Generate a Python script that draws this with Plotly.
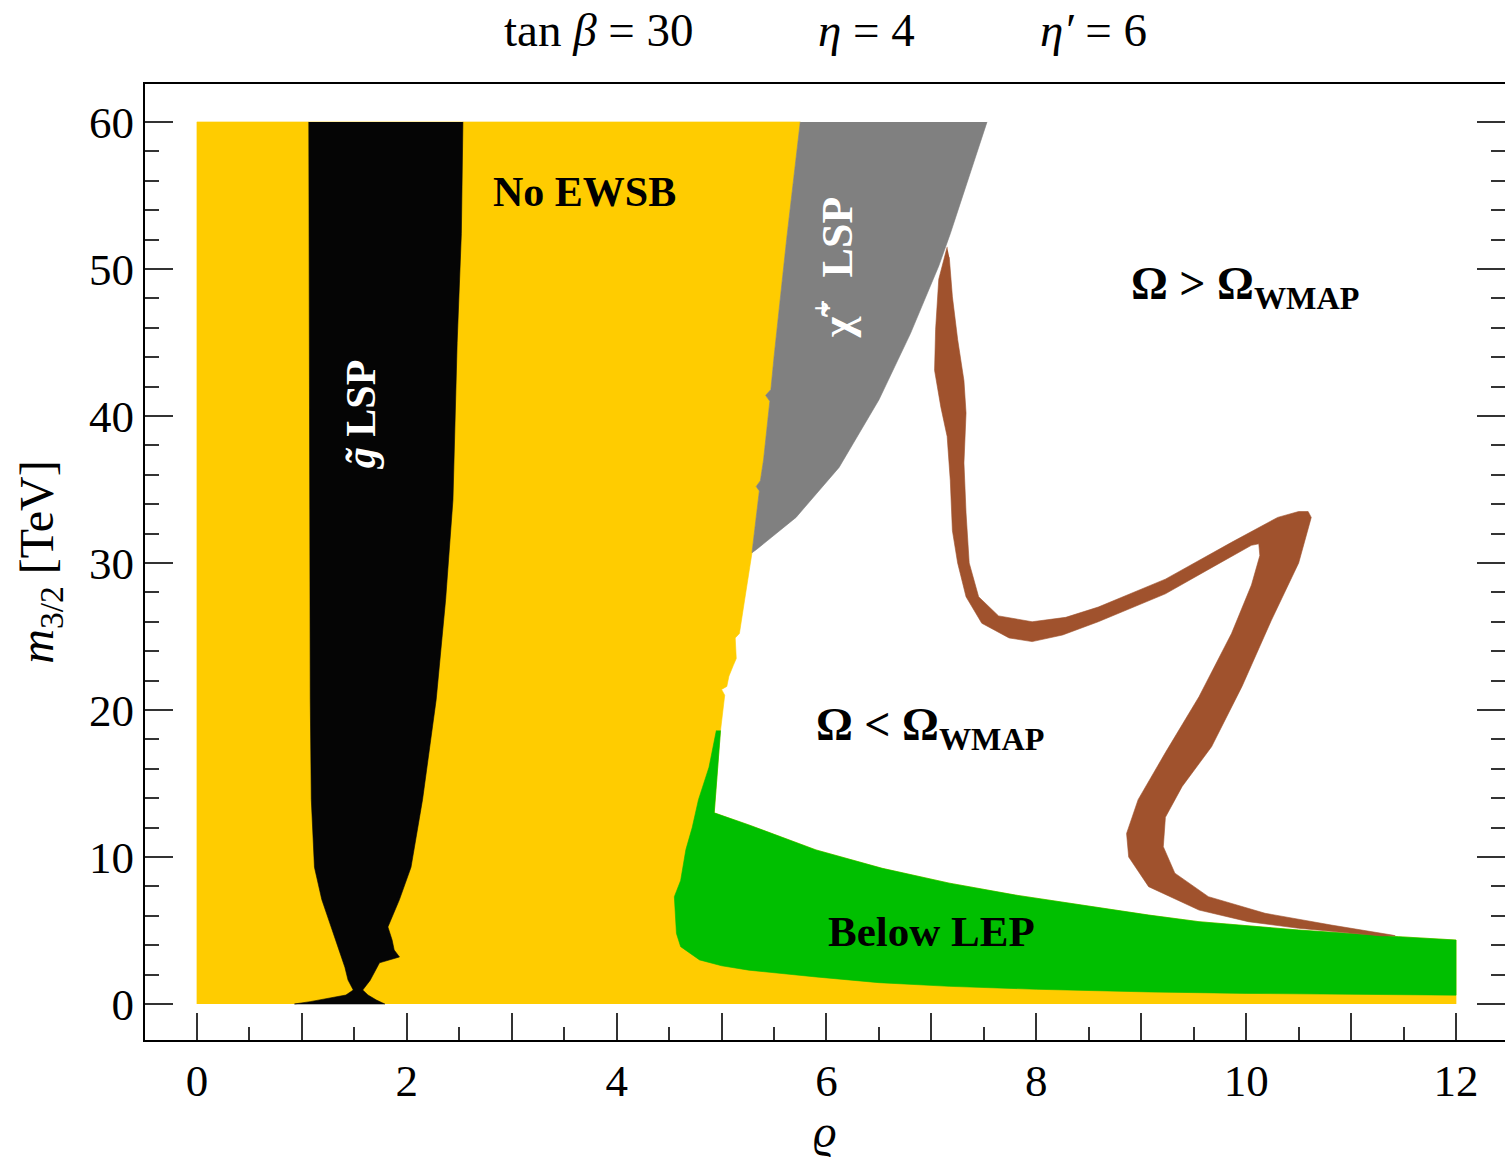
import plotly.graph_objects as go

# ---------------- data ----------------
# Boundary between "No EWSB" (yellow) and the chargino-LSP / allowed regions, top -> bottom
ewsb_edge_x = [5.75, 5.62, 5.50, 5.47, 5.42, 5.46, 5.40, 5.37, 5.33, 5.36, 5.32, 5.29,
               5.22, 5.17, 5.13, 5.14, 5.11, 5.07, 5.05, 5.00, 5.03, 4.99]
ewsb_edge_y = [60.0, 52.0, 44.0, 41.8, 41.4, 41.0, 37.0, 35.6, 35.2, 34.9, 32.5, 30.7,
               27.5, 25.2, 24.9, 23.5, 23.0, 22.3, 21.6, 21.4, 21.0, 18.6]
n_chargino_left = 12  # first 12 points of the edge also bound the chargino region

# Chargino LSP region: right boundary, bottom -> top
chi_right_x = [5.33, 5.71, 6.12, 6.50, 6.80, 7.07, 7.18, 7.39, 7.53]
chi_right_y = [30.9, 33.1, 36.5, 41.1, 45.6, 50.2, 52.4, 57.0, 60.0]

# "Below LEP" region: upper boundary, left -> right
lep_top_x = [4.99, 4.93, 5.26, 5.90, 6.53, 7.17, 7.80, 8.43, 9.07, 9.55, 10.50, 11.45, 12.0]
lep_top_y = [18.6, 13.0, 12.18, 10.48, 9.23, 8.22, 7.41, 6.73, 6.05, 5.60, 5.03, 4.58, 4.35]
# lower / left boundary, right -> left -> up
lep_bot_x = [12.0, 11.0, 10.0, 9.07, 8.0, 7.17, 6.5, 5.9, 5.6, 5.26, 5.0, 4.79, 4.61, 4.57,
             4.55, 4.61, 4.66, 4.72, 4.78, 4.88, 4.95]
lep_bot_y = [0.6, 0.65, 0.72, 0.82, 1.0, 1.2, 1.45, 1.84, 2.05, 2.3, 2.6, 3.0, 3.9, 4.8,
             7.3, 8.4, 10.5, 12.0, 13.9, 16.1, 18.6]

# Gluino LSP region (closed contour)
gluino_x = [1.066, 1.07, 1.075, 1.08, 1.09, 1.12, 1.19, 1.30, 1.41, 1.44, 1.49, 1.42, 1.27,
            1.08, 0.93, 1.79, 1.71, 1.63, 1.58, 1.65, 1.74, 1.93, 1.88, 1.86, 1.82, 1.93,
            2.04, 2.15, 2.28, 2.37, 2.44, 2.48, 2.52, 2.535]
gluino_y = [60.0, 45.0, 34.0, 20.7, 13.9, 9.3, 7.1, 4.8, 2.5, 1.63, 0.95, 0.61, 0.40,
            0.16, 0.0, 0.0, 0.27, 0.61, 0.95, 1.6, 2.8, 3.2, 3.67, 4.35, 5.24, 7.1,
            9.3, 13.9, 20.7, 27.5, 34.3, 45.0, 52.4, 60.0]

# WMAP-compatible band (closed contour)
wmap_x = [7.15, 7.07, 7.04, 7.03, 7.09, 7.15, 7.18, 7.20, 7.25, 7.33, 7.48, 7.74, 7.96, 8.25,
          8.59, 9.23, 9.70, 10.05, 10.12,
          10.13, 10.05, 9.86, 9.55, 9.23, 8.97, 8.86, 8.88, 9.07, 9.55, 10.02, 10.50, 11.29, 11.42,
          11.39, 10.81, 10.18, 9.64, 9.32, 9.21, 9.23, 9.39, 9.67, 9.96, 10.24, 10.50, 10.60,
          10.62, 10.59, 10.50,
          10.30, 9.86, 9.23, 8.59, 8.28, 7.96, 7.64, 7.45, 7.36, 7.33, 7.31, 7.33, 7.31, 7.25,
          7.20, 7.17]
wmap_y = [51.5, 49.3, 45.9, 43.1, 40.6, 38.6, 35.6, 32.2, 30.0, 27.7, 25.9, 24.9, 24.65, 25.1,
          26.0, 27.9, 29.8, 31.2, 31.3,
          30.5, 28.5, 25.2, 20.9, 17.1, 13.9, 11.6, 10.0, 7.98, 6.39, 5.60, 5.15, 4.63, 4.64,
          4.69, 5.37, 6.17, 7.3, 8.9, 10.7, 12.7, 14.8, 17.5, 21.6, 26.1, 30.0, 32.7,
          33.1, 33.5, 33.5,
          33.1, 31.4, 28.9, 27.0, 26.3, 26.0, 26.4, 27.7, 30.0, 33.4, 36.8, 40.2, 42.4, 45.2,
          48.1, 50.8]

x_tick_vals = [0, 1, 2, 3, 4, 5, 6, 7, 8, 9, 10, 11, 12]
x_tick_text = ["0", "", "2", "", "4", "", "6", "", "8", "", "10", "", "12"]
x_minor_vals = [0.5, 1.5, 2.5, 3.5, 4.5, 5.5, 6.5, 7.5, 8.5, 9.5, 10.5, 11.5]
y_tick_vals = [0, 10, 20, 30, 40, 50, 60]
y_minor_vals = [2, 4, 6, 8, 12, 14, 16, 18, 22, 24, 26, 28, 32, 34, 36, 38,
                42, 44, 46, 48, 52, 54, 56, 58]

title_parts = ["tan <i>β</i> = 30", "<i>η</i> = 4", "<i>η′</i> = 6"]
title_centers_px = [600, 868, 1095]   # horizontal centres of the three header items

# ---------------- styling ----------------
YELLOW = "#FFCC00"
GREEN = "#00BF00"
BLACK = "#050505"
GRAY = "#808080"
BROWN = "#A0522D"
FONT = "Liberation Serif"
W, H = 1507, 1161          # 2px wider than the window: the right frame line falls outside
L, R, T, B = 145, 0, 84, 121
PX_PER_X = 105.08
X_RANGE = [-0.495, -0.495 + (W - L - R) / PX_PER_X]

fig = go.Figure()


def region(xs, ys, color, name):
    fig.add_trace(go.Scatter(x=xs, y=ys, fill="toself", fillcolor=color, mode="lines",
                             line=dict(color=color, width=0.6), name=name,
                             hoverinfo="skip", showlegend=False))


# No EWSB (yellow): everything left of the edge, plus the strip under the LEP region
yel_x = [0.0, 0.0] + ewsb_edge_x + lep_top_x[1:] + [12.0, 12.0]
yel_y = [0.0, 60.0] + ewsb_edge_y + lep_top_y[1:] + [0.0, 0.0]
region(yel_x, yel_y, YELLOW, "No EWSB")

# Below LEP (green)
region(lep_top_x + lep_bot_x, lep_top_y + lep_bot_y, GREEN, "Below LEP")

# gluino LSP (black)
region(gluino_x, gluino_y, BLACK, "gluino LSP")

# chargino LSP (gray)
region(ewsb_edge_x[:n_chargino_left] + chi_right_x,
       ewsb_edge_y[:n_chargino_left] + chi_right_y, GRAY, "chargino LSP")

# WMAP band (brown)
region(wmap_x, wmap_y, BROWN, "WMAP")

# ---------------- texts ----------------
ann = []
def label(x, y, text, size=42, color="black", angle=0, xref="x", yref="y"):
    ann.append(dict(x=x, y=y, xref=xref, yref=yref, text=text, showarrow=False,
                    textangle=angle, font=dict(family=FONT, size=size, color=color),
                    xanchor="center", yanchor="middle"))

label(3.69, 55.2, "<b>No EWSB</b>")
label(1.57, 40.1, "<b><i>g̃</i> LSP</b>", color="white", angle=-90)
label(6.07, 50.1, "<b>χ̃<sup>+</sup>  LSP</b>", size=44, color="white", angle=-90)
label(9.99, 48.8, "<b>Ω &gt; Ω<sub>WMAP</sub></b>", size=46)
label(6.99, 18.8, "<b>Ω &lt; Ω<sub>WMAP</sub></b>", size=46)
label(7.0, 4.9, "<b>Below LEP</b>", size=43)

plot_w = W - L - R
plot_h = H - T - B
for txt, cx in zip(title_parts, title_centers_px):
    label((cx - L) / plot_w, 1 + (T - 30) / plot_h, txt, size=47, xref="paper", yref="paper")

fig.update_layout(
    width=W, height=H,
    margin=dict(l=L, r=R, t=T, b=B),
    paper_bgcolor="white", plot_bgcolor="white",
    font=dict(family=FONT, size=45, color="black"),
    annotations=ann,
    xaxis=dict(range=X_RANGE, showgrid=False, zeroline=False,
               showline=True, linecolor="black", linewidth=2, mirror=True,
               ticks="inside", ticklen=27, tickwidth=1.5, tickcolor="#333333",
               tickvals=x_tick_vals, ticktext=x_tick_text,
               minor=dict(ticks="inside", ticklen=13, tickwidth=1.5, tickcolor="#333333",
                          tickvals=x_minor_vals, showgrid=False),
               tickfont=dict(family=FONT, size=45, color="black"),
               title=dict(text="<i>ϱ</i>", font=dict(family=FONT, size=46), standoff=2)),
    yaxis=dict(range=[-2.45, 62.58], showgrid=False, zeroline=False,
               showline=True, linecolor="black", linewidth=2, mirror="ticks",
               ticks="inside", ticklen=28, tickwidth=1.5, tickcolor="#333333",
               tickvals=y_tick_vals,
               minor=dict(ticks="inside", ticklen=14, tickwidth=1.5, tickcolor="#333333",
                          tickvals=y_minor_vals, showgrid=False),
               tickfont=dict(family=FONT, size=45, color="black"),
               title=dict(text="<i>m</i><sub>3/2</sub> [TeV]", font=dict(family=FONT, size=48),
                          standoff=20)),
)

# remove the browser's default 8px page margin so the figure fills the window exactly
fig.write_html("out.html", config={"displayModeBar": False},
               post_script="document.body.style.margin='0';document.body.style.overflow='hidden';")
